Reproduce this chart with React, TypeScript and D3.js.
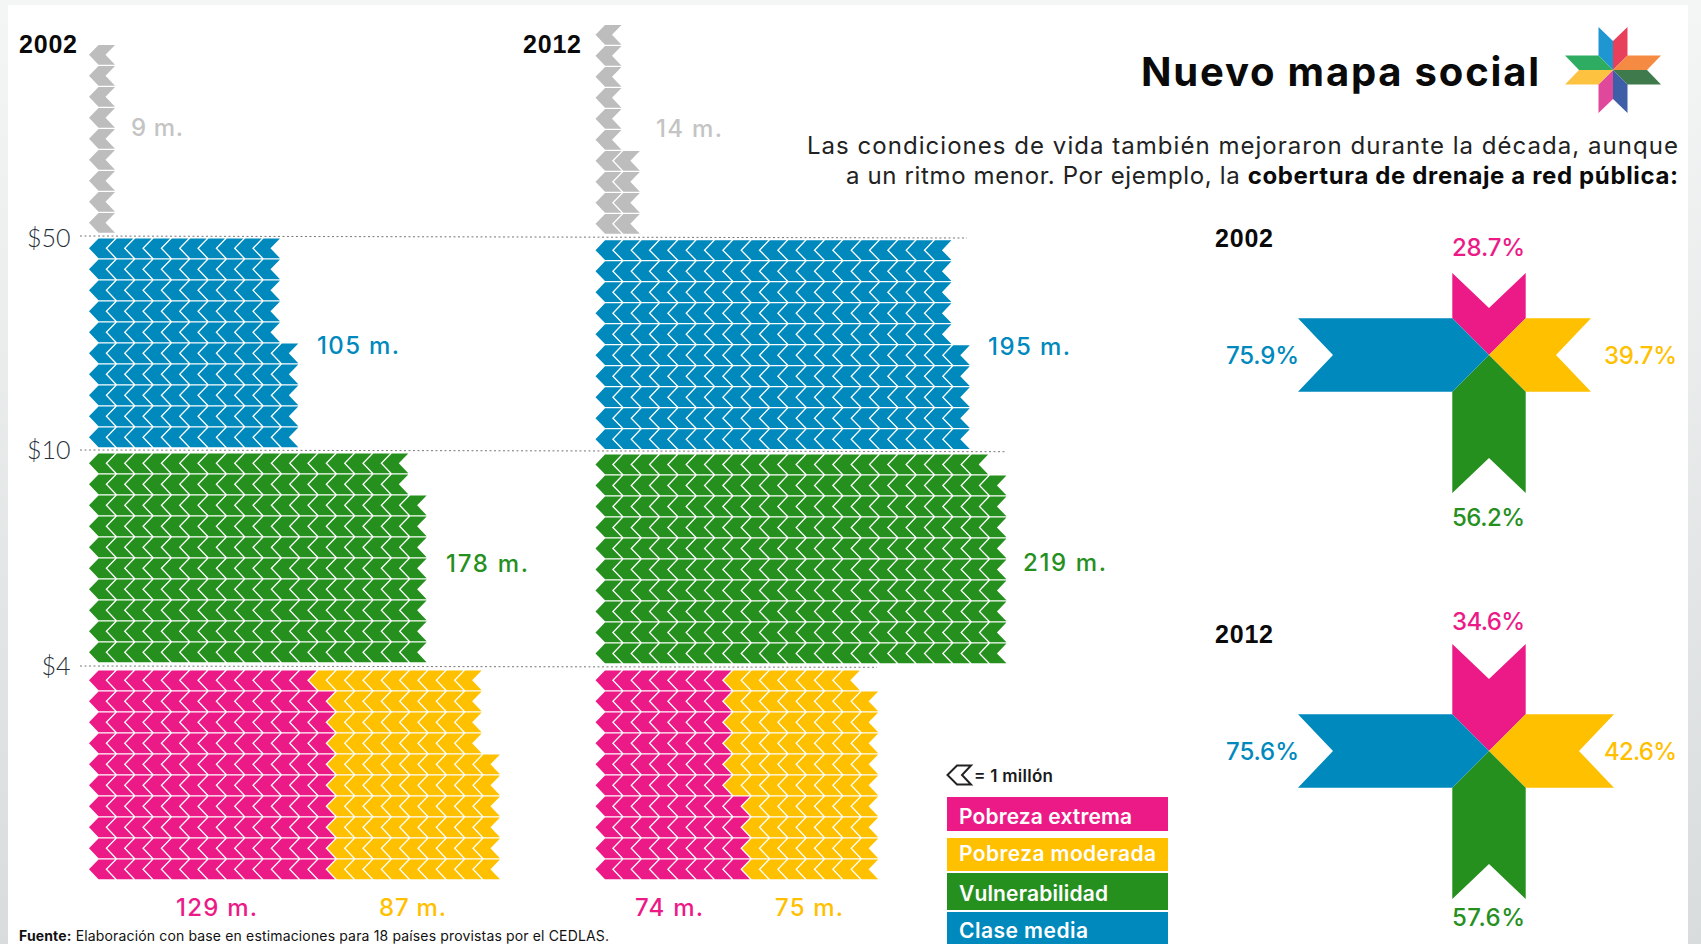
import React from "react";
import * as d3 from "d3";

// ---------- data: rows of chevrons (1 chevron = 1 million), top row first ----------
const grey2002 = [1, 1, 1, 1, 1, 1, 1, 1, 1];
const grey2012 = [1, 1, 1, 1, 1, 1, 2, 2, 2, 2];
const blue2002 = [10, 10, 10, 10, 10, 11, 11, 11, 11, 11];
const blue2012 = [19, 19, 19, 19, 19, 20, 20, 20, 20, 20];
const green2002 = [17, 17, 18, 18, 18, 18, 18, 18, 18, 18];
const green2012 = [21, 22, 22, 22, 22, 22, 22, 22, 22, 22];
const pink2002 = [12, 13, 13, 13, 13, 13, 13, 13, 13, 13];
const yellow2002 = [9, 8, 8, 8, 9, 9, 9, 9, 9, 9];
const pink2012 = [7, 7, 7, 7, 7, 7, 8, 8, 8, 8];
const yellow2012 = [7, 8, 8, 8, 8, 8, 7, 7, 7, 7];

const coverageOrder = ["pink", "yellow", "green", "blue"];
const coverage2002 = [28.7, 39.7, 56.2, 75.9];
const coverage2012 = [34.6, 42.6, 57.6, 75.6];

const legendLabels = ["Pobreza extrema", "Pobreza moderada", "Vulnerabilidad", "Clase media"];
const thresholdLabels = ["$50", "$10", "$4"];

const C: Record<string, string> = {
  pink: "#ec1a87",
  yellow: "#ffc000",
  green: "#26901f",
  blue: "#0089bd",
  grey: "#bdbdbd",
  greyText: "#c4c4c4",
  ink: "#0a0a0a",
};

// ---------- layout ----------
const CH_W = 26;
const CH_H = 19.7;
const CH_D = 9.5;
const chevron = d3.line<[number, number]>();
const chevronPath = (x: number, y: number) =>
  chevron([
    [x, y + CH_H / 2],
    [x + CH_D, y],
    [x + CH_W, y],
    [x + CH_W - CH_D, y + CH_H / 2],
    [x + CH_W, y + CH_H],
    [x + CH_D, y + CH_H],
  ]) + "Z";

const colX = (left: number) => d3.scaleLinear().domain([0, 1]).range([left, left + 18.33]);
const rowY = (top: number) => d3.scaleLinear().domain([0, 1]).range([top, top + 21]);

function Band({ rows, left, top, color, offsets }: { rows: number[]; left: number; top: number; color: string; offsets?: number[] }) {
  const x = colX(left);
  const y = rowY(top);
  return (
    <g fill={color}>
      {rows.flatMap((n, r) =>
        d3.range(n).map((c) => <path key={r + "-" + c} d={chevronPath(x(c + (offsets ? offsets[r] : 0)), y(r))} />)
      )}
    </g>
  );
}

function Txt(p: { x: number; y: number; w?: number; c?: string; s: number; f?: string; b?: number; a?: string; children: React.ReactNode }) {
  return (
    <text
      x={p.x}
      y={p.y}
      fontSize={p.s}
      fontFamily={p.f || "Inter"}
      fontWeight={p.b || 500}
      fill={p.c || C.ink}
      textAnchor={(p.a as any) || "start"}
      textLength={p.w}
      lengthAdjust={p.w ? "spacing" : undefined}
    >
      {p.children}
    </text>
  );
}

function Cross({ cx, cy, values, domain, lengths }: { cx: number; cy: number; values: number[]; domain: number[]; lengths: number[] }) {
  // the reference's arms grow with the value but not strictly in proportion, so the scale is piecewise
  const len = d3.scaleLinear().domain(domain).range(lengths);
  const w = 36.7;
  const n = 35;
  const arm = (L: number): [number, number][] => [
    [0, 0],
    [-w, -w],
    [-L, -w],
    [-L + n, 0],
    [-L, w],
    [-w, w],
  ];
  const rot = { blue: 0, pink: 90, yellow: 180, green: 270 } as Record<string, number>;
  return (
    <g transform={`translate(${cx},${cy})`}>
      {coverageOrder.map((k, i) => (
        <path key={k} fill={C[k]} transform={`rotate(${rot[k]})`} d={d3.line()(arm(len(values[i]))) + "Z"} />
      ))}
    </g>
  );
}

function Logo({ cx, cy }: { cx: number; cy: number }) {
  const w = 14.5, lh = 48, lv = 43, n = 14;
  const pieces: [string, [number, number][]][] = [
    ["#1e96d2", [[0, 0], [-w, -w], [-w, -lv], [0, -lv + n]]],
    ["#e8405a", [[0, 0], [w, -w], [w, -lv], [0, -lv + n]]],
    ["#f58a42", [[0, 0], [w, -w], [lh, -w], [lh - n, 0]]],
    ["#3f7a4c", [[0, 0], [w, w], [lh, w], [lh - n, 0]]],
    ["#3f5ea8", [[0, 0], [w, w], [w, lv], [0, lv - n]]],
    ["#e0489c", [[0, 0], [-w, w], [-w, lv], [0, lv - n]]],
    ["#fdc240", [[0, 0], [-w, w], [-lh, w], [-lh + n, 0]]],
    ["#2ead62", [[0, 0], [-w, -w], [-lh, -w], [-lh + n, 0]]],
  ];
  return (
    <g transform={`translate(${cx},${cy})`}>
      {pieces.map(([c, p], i) => (
        <path key={i} fill={c} d={d3.line()(p) + "Z"} />
      ))}
    </g>
  );
}

const L1 = 89;
const L2 = 595.5;
const BLUE_TOP = 238.5;
const BLUE_TOP_2012 = 240.3;
const GREEN_TOP = 453.5;
const GREEN_TOP_2012 = 454.6;
const PINK_TOP = 670.5;

export default function App() {
  const lines = [
    { y1: 236, y2: 238, x2: 967 },
    { y1: 450, y2: 451.7, x2: 1006 },
    { y1: 666, y2: 667.3, x2: 877 },
  ];
  const legY = [797, 838, 873, 912];
  const legH = [34, 33, 37, 32];
  const legB = [823.5, 860.5, 900.5, 937.5];
  const legW = [173, 197, 149, 129];
  const legC = ["pink", "yellow", "green", "blue"];
  return (
    <svg
      width={1701}
      height={944}
      viewBox="0 0 1701 944"
      style={{ position: "absolute", left: 0, top: 0, display: "block" }}
    >
      <defs>
        <linearGradient id="bg" x1="0" y1="0" x2="0" y2="1">
          <stop offset="0" stopColor="#f4f6f6" />
          <stop offset="1" stopColor="#d9dcdc" />
        </linearGradient>
      </defs>
      <rect width={1701} height={944} fill="url(#bg)" />
      <rect x={8} y={5} width={1680} height={939} fill="#fff" />

      {/* threshold lines */}
      {lines.map((l, i) => (
        <line key={i} x1={80} x2={l.x2} y1={l.y1} y2={l.y2} stroke="#777" strokeWidth={1} strokeDasharray="2 2.5" />
      ))}
      {thresholdLabels.map((t, i) => (
        <Txt key={t} x={70.5} y={[247, 459, 675][i]} s={25} f="Lato" b={300} c="#26303a" a="end">
          {t}
        </Txt>
      ))}

      {/* 2002 column */}
      <Txt x={19} y={52.5} s={25} w={58} f="Liberation Sans" b={700}>2002</Txt>
      <Band rows={grey2002} left={L1} top={45} color={C.grey} />
      <Txt x={131} y={136} s={24} w={52} c={C.greyText}>9 m.</Txt>
      <Band rows={blue2002} left={L1} top={BLUE_TOP} color={C.blue} />
      <Txt x={317} y={354} s={24} w={82} c={C.blue}>105 m.</Txt>
      <Band rows={green2002} left={L1} top={GREEN_TOP} color={C.green} />
      <Txt x={446} y={572} s={24} w={82} c={C.green}>178 m.</Txt>
      <Band rows={yellow2002} left={L1} top={PINK_TOP} color={C.yellow} offsets={pink2002} />
      <Band rows={pink2002} left={L1} top={PINK_TOP} color={C.pink} />
      <Txt x={176} y={916} s={24} w={81} c={C.pink}>129 m.</Txt>
      <Txt x={379} y={916} s={24} w={67} c={C.yellow}>87 m.</Txt>

      {/* 2012 column */}
      <Txt x={523} y={52.5} s={25} w={58} f="Liberation Sans" b={700}>2012</Txt>
      <Band rows={grey2012} left={L2} top={25} color={C.grey} />
      <Txt x={656} y={137} s={24} w={66} c={C.greyText}>14 m.</Txt>
      <Band rows={blue2012} left={L2} top={BLUE_TOP_2012} color={C.blue} />
      <Txt x={988} y={355} s={24} w={82} c={C.blue}>195 m.</Txt>
      <Band rows={green2012} left={L2} top={GREEN_TOP_2012} color={C.green} />
      <Txt x={1023} y={571} s={24} w={83} c={C.green}>219 m.</Txt>
      <Band rows={yellow2012} left={L2} top={PINK_TOP} color={C.yellow} offsets={pink2012} />
      <Band rows={pink2012} left={L2} top={PINK_TOP} color={C.pink} />
      <Txt x={635} y={916} s={24} w={68} c={C.pink}>74 m.</Txt>
      <Txt x={775} y={916} s={24} w={68} c={C.yellow}>75 m.</Txt>

      {/* title */}
      <Txt x={1141} y={86} s={40} w={398} b={700}>Nuevo mapa social</Txt>
      <Logo cx={1613} cy={70} />
      <Txt x={807} y={154} s={24} w={871} b={400} c="#222">Las condiciones de vida también mejoraron durante la década, aunque</Txt>
      <text x={846} y={184} fontSize={24} fontFamily="Inter" fill="#222" textLength={832} lengthAdjust="spacing">
        a un ritmo menor. Por ejemplo, la <tspan fontWeight={700} fill="#0a0a0a">cobertura de drenaje a red pública:</tspan>
      </text>

      {/* crosses */}
      <Txt x={1215} y={246.5} s={25} w={58} f="Liberation Sans" b={700}>2002</Txt>
      <Cross cx={1489} cy={355} values={coverage2002} domain={coverage2002} lengths={[82, 102, 138, 191]} />
      <Txt x={1452} y={255.5} s={24} w={73} c={C.pink}>{coverage2002[0] + "%"}</Txt>
      <Txt x={1604} y={363.5} s={24} w={73} c={C.yellow}>{coverage2002[1] + "%"}</Txt>
      <Txt x={1452} y={525.5} s={24} w={73} c={C.green}>{coverage2002[2] + "%"}</Txt>
      <Txt x={1226} y={363.5} s={24} w={73} c={C.blue}>{coverage2002[3] + "%"}</Txt>

      <Txt x={1215} y={642.5} s={25} w={58} f="Liberation Sans" b={700}>2012</Txt>
      <Cross cx={1489} cy={751} values={coverage2012} domain={coverage2012} lengths={[107, 125, 148, 191]} />
      <Txt x={1452} y={629.5} s={24} w={73} c={C.pink}>{coverage2012[0] + "%"}</Txt>
      <Txt x={1604} y={759.5} s={24} w={73} c={C.yellow}>{coverage2012[1] + "%"}</Txt>
      <Txt x={1452} y={925.5} s={24} w={73} c={C.green}>{coverage2012[2] + "%"}</Txt>
      <Txt x={1226} y={759.5} s={24} w={73} c={C.blue}>{coverage2012[3] + "%"}</Txt>

      {/* legend */}
      <g fill="#fff" stroke="#222" strokeWidth={2}>
        <path d="M947.5 775 L957 765.5 L971 765.5 L962 775 L971 784.5 L957 784.5 Z" />
      </g>
      <Txt x={974} y={782} s={17} w={79} b={600} c="#1a1a1a">= 1 millón</Txt>
      {legendLabels.map((t, i) => (
        <g key={t}>
          <rect x={947} y={legY[i]} width={221} height={legH[i]} fill={C[legC[i]]} />
          <Txt x={959} y={legB[i]} s={21} w={legW[i]} b={600} c="#fff">{t}</Txt>
        </g>
      ))}

      {/* source */}
      <text x={19} y={941} fontSize={14} fontFamily="Inter" fill="#111" textLength={590} lengthAdjust="spacing">
        <tspan fontWeight={700}>Fuente:</tspan> Elaboración con base en estimaciones para 18 países provistas por el CEDLAS.
      </text>
    </svg>
  );
}
